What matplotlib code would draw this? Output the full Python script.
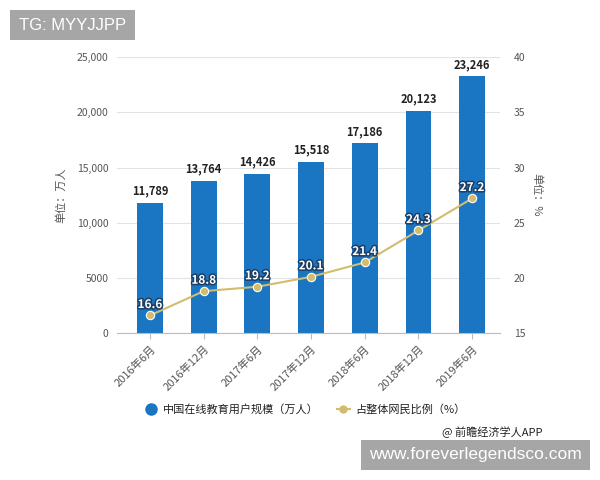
import matplotlib
matplotlib.use("Agg")
import matplotlib.pyplot as plt
import matplotlib.patheffects as pe
from matplotlib.lines import Line2D
from matplotlib.patches import FancyBboxPatch

plt.rcParams['font.family'] = ['Noto Sans CJK SC', 'DejaVu Sans']

categories = ['2016年6月', '2016年12月', '2017年6月', '2017年12月', '2018年6月', '2018年12月', '2019年6月']
users = [11789, 13764, 14426, 15518, 17186, 20123, 23246]
ratio = [16.6, 18.8, 19.2, 20.1, 21.4, 24.3, 27.2]
left_ticks = [0, 5000, 10000, 15000, 20000, 25000]
left_tick_labels = ['0', '5000', '10,000', '15,000', '20,000', '25,000']
right_ticks = [15, 20, 25, 30, 35, 40]

bar_color = '#1a75c2'
line_color = '#d2bc6e'
grid_color = '#e3e3e3'
text_color = '#555555'

fig = plt.figure(figsize=(6, 4.8), dpi=100)
ax = fig.add_axes([117 / 600, 0.306, 383 / 600, 0.575])
ax2 = ax.twinx()

x = list(range(len(categories)))
ax.bar(x, users, width=0.48, color=bar_color, zorder=2)
ax.set_xlim(-0.615, len(categories) - 0.48)
ax.set_ylim(0, 25000)
ax.set_yticks(left_ticks)
ax.set_yticklabels(left_tick_labels)
ax.grid(axis='y', color=grid_color, linewidth=0.8, zorder=0)
ax.set_axisbelow(True)
for s in ['top', 'right', 'left']:
    ax.spines[s].set_visible(False)
ax.spines['bottom'].set_color('#bbbbbb')
ax.spines['bottom'].set_linewidth(0.8)
ax.tick_params(axis='y', length=0, labelsize=7.5, labelcolor=text_color, pad=6)
ax.tick_params(axis='x', length=4, color='#bbbbbb', labelsize=8, labelcolor=text_color)
ax.set_xticks(x)
ax.set_xticklabels(categories, rotation=45, ha='right', rotation_mode='anchor')
ax.set_ylabel('单位：万人', fontsize=8, color=text_color, labelpad=8)

for xi, v in zip(x, users):
    ax.text(xi, v + 500, f'{v:,}', ha='center', va='bottom', fontsize=8,
            fontweight='bold', color='#222222', zorder=5)

ax2.plot(x, ratio, color=line_color, linewidth=1.5, marker='o', markersize=6,
         markerfacecolor=line_color, markeredgecolor='white', markeredgewidth=0.8, zorder=4)
ax2.set_ylim(15, 40)
ax2.set_yticks(right_ticks)
for s in ['top', 'right', 'left', 'bottom']:
    ax2.spines[s].set_visible(False)
ax2.tick_params(axis='y', length=0, labelsize=7.5, labelcolor=text_color, pad=10)
ax2.set_ylabel('单位：%', fontsize=8, color=text_color, rotation=270, labelpad=12)

for xi, v in zip(x, ratio):
    ax2.text(xi, v + 0.4, f'{v}', ha='center', va='bottom', fontsize=8.5,
             fontweight='bold', color='white', zorder=6,
             path_effects=[pe.withStroke(linewidth=2.2, foreground='#1c3f66')])

# legend
handles = [
    Line2D([0], [0], marker='o', color='none', markerfacecolor=bar_color, markeredgecolor=bar_color, markersize=8),
    Line2D([0], [0], color=line_color, linewidth=1.5, marker='o', markerfacecolor=line_color,
           markeredgecolor=line_color, markersize=5),
]
fig.legend(handles, ['中国在线教育用户规模（万人）', '占整体网民比例（%）'], loc='center',
           bbox_to_anchor=(305 / 600, 0.147), ncol=2, frameon=False, fontsize=8,
           handlelength=1.2, columnspacing=1.6, handletextpad=0.5, labelcolor='#222222')

fig.text(543 / 600, 1 - 432 / 480, '@ 前瞻经济学人APP', ha='right', va='center', fontsize=8, color='#222222')

# watermark boxes
fig.patches.append(FancyBboxPatch((10 / 600, 1 - 40 / 480), 125 / 600, 30 / 480, boxstyle='square,pad=0',
                                  transform=fig.transFigure, facecolor='#a6a6a6', edgecolor='none'))
fig.text(73 / 600, 1 - 25 / 480, 'TG: MYYJJPP', ha='center', va='center', fontsize=12,
         color='white', family=['Liberation Sans'])
fig.patches.append(FancyBboxPatch((361 / 600, 1 - 470 / 480), 229 / 600, 30 / 480, boxstyle='square,pad=0',
                                  transform=fig.transFigure, facecolor='#a6a6a6', edgecolor='none'))
fig.text(475 / 600, 1 - 455 / 480, 'www.foreverlegendsco.com', ha='center', va='center', fontsize=12.5,
         color='white', family=['Liberation Sans'])

fig.savefig('out.png', dpi=100, facecolor='white')
